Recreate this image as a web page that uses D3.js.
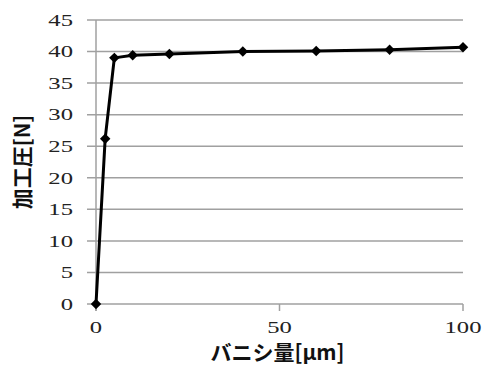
<!DOCTYPE html>
<html>
<head>
<meta charset="utf-8">
<script src="https://cdn.jsdelivr.net/npm/d3@7"></script>
<style>
  body { margin: 0; background: #fff; }
  .axis-title { font-family: "Noto Sans CJK JP", sans-serif; font-size: 21px; font-weight: bold; fill: #111; }
</style>
</head>
<body>
<div id="chart"></div>
<script>
// burnishing amount [um] vs processing force [N]
var burnish = [0, 2.5, 5, 10, 20, 40, 60, 80, 100]
var force = [0, 26.2, 39.0, 39.4, 39.6, 40.0, 40.1, 40.3, 40.7]
var yTicks = [0, 5, 10, 15, 20, 25, 30, 35, 40, 45]
var xTicks = [0, 50, 100]

var W = 490, H = 367
var margin = { top: 20, right: 27, bottom: 63, left: 96 }
var w = W - margin.left - margin.right,
    h = H - margin.top - margin.bottom
var SERIF = "'Liberation Serif', 'DejaVu Serif', serif"

var svg = d3.select("#chart").append("svg")
    .attr("width", W)
    .attr("height", H)

var g = svg.append("g")
    .attr("transform", "translate(" + margin.left + "," + margin.top + ")")

var x = d3.scaleLinear().domain([0, 100]).range([0, w])
var y = d3.scaleLinear().domain([0, 45]).range([h, 0])

// horizontal gridlines, extending left as ticks
g.selectAll(".grid")
    .data(yTicks)
    .enter().append("line")
    .attr("class", "grid")
    .attr("x1", -9)
    .attr("x2", w)
    .attr("y1", d => y(d))
    .attr("y2", d => y(d))
    .style("stroke", "#a0a0a0")
    .style("stroke-width", 1.5)

// y axis line
g.append("line")
    .attr("x1", 0).attr("x2", 0)
    .attr("y1", 0).attr("y2", h + 7)
    .style("stroke", "#a0a0a0")
    .style("stroke-width", 1.5)

// x ticks
g.selectAll(".xtick")
    .data(xTicks)
    .enter().append("line")
    .attr("class", "xtick")
    .attr("x1", d => x(d)).attr("x2", d => x(d))
    .attr("y1", h).attr("y2", h + 7)
    .style("stroke", "#a0a0a0")
    .style("stroke-width", 1.5)

g.selectAll(".ylab")
    .data(yTicks)
    .enter().append("text")
    .attr("text-anchor", "end")
    .attr("dy", "0.34em")
    .style("font-family", SERIF)
    .style("font-size", "17px")
    .style("fill", "#222")
    .attr("transform", d => "translate(-23," + y(d) + ") scale(1.45,1)")
    .text(d => d)

g.selectAll(".xlab")
    .data(xTicks)
    .enter().append("text")
    .attr("text-anchor", "middle")
    .attr("dy", "0.34em")
    .style("font-family", SERIF)
    .style("font-size", "17px")
    .style("fill", "#222")
    .attr("transform", d => "translate(" + x(d) + "," + (h + 23) + ") scale(1.45,1)")
    .text(d => d)

// the series
var line = d3.line()
    .x((d, i) => x(burnish[i]))
    .y(d => y(d))

g.append("path")
    .datum(force)
    .attr("d", line)
    .style("fill", "none")
    .style("stroke", "#000")
    .style("stroke-width", 3)
    .style("stroke-linejoin", "round")

g.selectAll(".dot")
    .data(force)
    .enter().append("path")
    .attr("class", "dot")
    .attr("d", d3.symbol().type(d3.symbolDiamond2).size(70))
    .attr("transform", (d, i) => "translate(" + x(burnish[i]) + "," + y(d) + ")")
    .style("fill", "#000")

// axis titles
svg.append("text")
    .attr("class", "axis-title")
    .attr("text-anchor", "middle")
    .attr("x", margin.left + w * 0.5 - 2)
    .attr("y", 360)
    .text("バニシ量[μm]")

svg.append("text")
    .attr("class", "axis-title")
    .attr("text-anchor", "middle")
    .attr("transform", "translate(30,162) rotate(-90)")
    .text("加工圧[N]")
</script>
</body>
</html>
